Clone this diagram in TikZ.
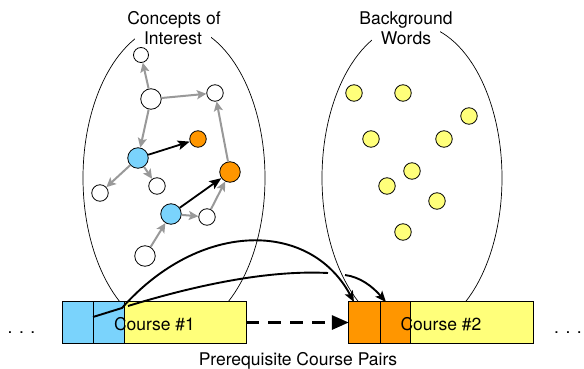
\documentclass[tikz,border=0pt]{standalone}
\usepackage{fontspec}
\setmainfont{TeX Gyre Heros}
\usetikzlibrary{arrows.meta}
\definecolor{cblue}{RGB}{122,211,252}
\definecolor{corange}{RGB}{255,150,0}
\definecolor{cyellow}{RGB}{255,255,122}
\definecolor{cgray}{RGB}{153,153,153}
\begin{document}
\begin{tikzpicture}[x=1pt,y=-1pt,font=\fontsize{17.5}{21}\selectfont,
  region/.style={draw,line width=0.7pt},
  titletext/.style={fill=white,inner xsep=9pt,inner ysep=2pt,anchor=base},
  concept/.style={circle,draw,line width=0.8pt,inner sep=0pt,fill=white,minimum size=16.5pt},
  bigconcept/.style={concept,minimum size=20.5pt},
  word/.style={circle,draw,line width=0.8pt,inner sep=0pt,fill=cyellow,minimum size=16.5pt},
  graylink/.style={draw=cgray,line width=2pt,-{Stealth[length=9.5pt,width=9pt,inset=2pt]}},
  blacklink/.style={draw=black,line width=1.8pt,-{Stealth[length=12pt,width=9.5pt,inset=2.5pt]}},
  coursebox/.style={inner sep=0pt,minimum height=41pt,fill=cyellow},
  curvelink/.style={line width=1.9pt,-{Stealth[length=11pt,width=9pt,inset=2.5pt]}},
  dasharrow/.style={line width=3pt,dash pattern=on 13pt off 9pt,-{Triangle[length=17pt,width=14pt]}},
  dotsnode/.style={anchor=base,inner sep=0pt}]
\useasboundingbox (0,0) rectangle (584,369);

% regions
\draw[region] (174,178) ellipse [x radius=91, y radius=154];
\draw[region] (412,178) ellipse [x radius=90, y radius=154];
\node[titletext] (t1a) at (174,25) {Concepts of};
\node[titletext] (t1b) at (173,45) {Interest};
\node[titletext] (t2a) at (406,25) {Background};
\node[titletext] (t2b) at (406,45) {Words};

% concepts of interest
\node[concept,minimum size=15pt] (w1) at (141,55) {};
\node[bigconcept] (w2) at (151,99) {};
\node[concept] (w3) at (215,93) {};
\node[concept,fill=corange] (o1) at (198,139) {};
\node[bigconcept,fill=cblue] (b1) at (138,158) {};
\node[bigconcept,fill=corange] (o2) at (230,172) {};
\node[concept] (w4) at (100,193) {};
\node[concept] (w5) at (157,186) {};
\node[bigconcept,fill=cblue] (b2) at (171,214) {};
\node[concept] (w6) at (207,217) {};
\node[bigconcept] (w7) at (145,256) {};

\draw[graylink] (w2) -- (w1);
\draw[graylink] (w2) -- (w3);
\draw[graylink] (w2) -- (b1);
\draw[graylink] (o2) -- (w3);
\draw[graylink] (b1) -- (w4);
\draw[graylink] (b1) -- (w5);
\draw[graylink] (b2) -- (w6);
\draw[graylink] (w6) -- (o2);
\draw[graylink] (w7) -- (b2);
\draw[blacklink] (b1) -- (o1);
\draw[blacklink] (b2) -- (o2);

% background words
\node[word] (y1) at (354,93) {};
\node[word] (y2) at (403,93) {};
\node[word] (y3) at (469,116) {};
\node[word] (y4) at (371,139) {};
\node[word] (y5) at (444,139) {};
\node[word] (y6) at (412,171) {};
\node[word] (y7) at (387,186) {};
\node[word] (y8) at (437,201) {};
\node[word] (y9) at (403,232) {};

% course 1
\node[coursebox,minimum width=183pt] (c1) at (154.5,322.5) {};
\fill[cblue] (c1.north west) rectangle (124,343);
\draw[line width=0.8pt] (93,302) -- (93,343) (124,302) -- (124,343);
\draw[line width=1.3pt] (c1.north west) rectangle (c1.south east);
\node[anchor=base] (c1t) at (154.5,330) {Course \#1};

% course 2
\node[coursebox,minimum width=184pt] (c2) at (441,322.5) {};
\fill[corange] (c2.north west) rectangle (410,343);
\draw[line width=0.8pt] (380,302) -- (380,343) (410,302) -- (410,343);
\draw[line width=1.3pt] (c2.north west) rectangle (c2.south east);
\node[anchor=base] (c2t) at (441,330) {Course \#2};

% links between courses
\coordinate (hs) at (93,317);
\coordinate (hk) at (122,308);
\coordinate (ht) at (354,302);
\coordinate (ls) at (128,306);
\coordinate (lg1) at (328,273);
\coordinate (lg2) at (345,275);
\coordinate (lt) at (386,302);
\draw[curvelink] (hs) -- (hk) .. controls (200,220) and (310,220) .. (ht);
\draw[line width=1.9pt] (ls) .. controls (200,284) and (270,270) .. (lg1);
\draw[curvelink] (lg2) .. controls (360,277) and (372,286) .. (lt);
\draw[dasharrow] (c1.east) -- (c2.west);

% dots and caption
\node[dotsnode] (d1) at (21.5,333.5) {. . .};
\node[dotsnode] (d2) at (568,333.5) {. . .};
\node[anchor=base] (cap) at (298,365) {Prerequisite Course Pairs};
\end{tikzpicture}
\end{document}
